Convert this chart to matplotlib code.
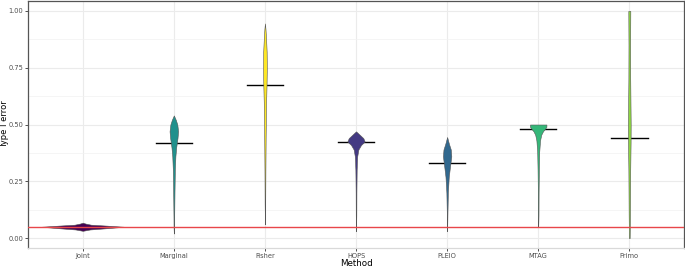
import numpy as np
import matplotlib
matplotlib.use("Agg")
import matplotlib.pyplot as plt
from matplotlib.ticker import MultipleLocator

methods = ["Joint", "Marginal", "Fisher", "HOPS", "PLEIO", "MTAG", "Primo"]
colors = ["#440154", "#21908C", "#FDE725", "#443A83", "#31688E", "#35B779", "#8FD744"]
means = [0.050, 0.420, 0.672, 0.421, 0.332, 0.480, 0.441]

# violin outlines: y values and half widths (in category units)
joint_y = [0.032, 0.038, 0.044, 0.050, 0.055, 0.059, 0.064, 0.068]
joint_w = [0.0, 0.08, 0.28, 0.45, 0.26, 0.09, 0.03, 0.0]
marginal_y = [0.02, 0.05, 0.10, 0.20, 0.30, 0.36, 0.40, 0.44, 0.47, 0.50, 0.52, 0.54]
marginal_w = [0.0, 0.003, 0.004, 0.007, 0.011, 0.017, 0.026, 0.04, 0.047, 0.038, 0.022, 0.0]
fisher_y = [0.06, 0.15, 0.30, 0.45, 0.60, 0.68, 0.75, 0.82, 0.88, 0.92, 0.945]
fisher_w = [0.0, 0.003, 0.005, 0.008, 0.013, 0.018, 0.021, 0.019, 0.012, 0.006, 0.0]
hops_y = [0.03, 0.10, 0.20, 0.30, 0.36, 0.39, 0.41, 0.425, 0.44, 0.455, 0.47]
hops_w = [0.0, 0.003, 0.004, 0.007, 0.013, 0.026, 0.055, 0.095, 0.08, 0.04, 0.0]
pleio_y = [0.03, 0.10, 0.20, 0.27, 0.32, 0.36, 0.39, 0.415, 0.445]
pleio_w = [0.0, 0.003, 0.008, 0.018, 0.033, 0.046, 0.04, 0.02, 0.0]
mtag_y = [0.05, 0.10, 0.20, 0.30, 0.38, 0.43, 0.455, 0.47, 0.48, 0.49, 0.50]
mtag_w = [0.0, 0.003, 0.004, 0.007, 0.011, 0.02, 0.033, 0.052, 0.072, 0.09, 0.09]
primo_y = [0.0, 0.10, 0.30, 0.42, 0.50, 0.58, 0.70, 0.85, 1.0]
primo_w = [0.004, 0.007, 0.01, 0.014, 0.015, 0.013, 0.01, 0.009, 0.011]

profiles = [(joint_y, joint_w), (marginal_y, marginal_w), (fisher_y, fisher_w),
            (hops_y, hops_w), (pleio_y, pleio_w), (mtag_y, mtag_w), (primo_y, primo_w)]
alpha_level = 0.05

fig = plt.figure(figsize=(6.85, 2.68), dpi=100)
ax = fig.add_axes([0.041, 0.0746, 0.9575, 0.9216])

ax.set_xlim(0.4, 7.6)
ax.set_ylim(-0.0436, 1.0436)
ax.yaxis.set_major_locator(MultipleLocator(0.25))
ax.yaxis.set_minor_locator(MultipleLocator(0.125))
ax.set_xticks(range(1, len(methods) + 1))
ax.set_xticklabels(methods)
ax.grid(which="major", color="#EBEBEB", lw=0.8, zorder=0)
ax.grid(which="minor", axis="y", color="#F2F2F2", lw=0.5, zorder=0)
ax.set_axisbelow(True)

for i, (ys, ws) in enumerate(profiles):
    x = i + 1
    ys = np.array(ys)
    ws = np.array(ws)
    ax.plot([x - 0.2, x + 0.2], [means[i], means[i]], color="black", lw=1.0, zorder=2)
    ax.fill_betweenx(ys, x - ws, x + ws, facecolor=colors[i],
                     edgecolor="#555555", lw=0.4, zorder=3)

ax.axhline(alpha_level, color="#E8474A", lw=1.0, zorder=4)

for s in ["left", "top", "right"]:
    ax.spines[s].set_color("#555555")
    ax.spines[s].set_linewidth(0.9)
ax.spines["bottom"].set_color("#D9D9D9")
ax.spines["bottom"].set_linewidth(0.9)

ax.tick_params(axis="both", which="major", labelsize=4.8, labelcolor="#4D4D4D",
               color="#333333", length=2.0, width=0.6, pad=1.5)
ax.tick_params(axis="y", which="minor", length=0)
ax.set_ylabel("Type I error", fontsize=6.0)
ax.set_xlabel("Method", fontsize=6.3)
ax.yaxis.set_label_coords(-0.029, 0.5)
ax.xaxis.set_label_coords(0.5, -0.0425)

fig.savefig("out.png", dpi=100)
